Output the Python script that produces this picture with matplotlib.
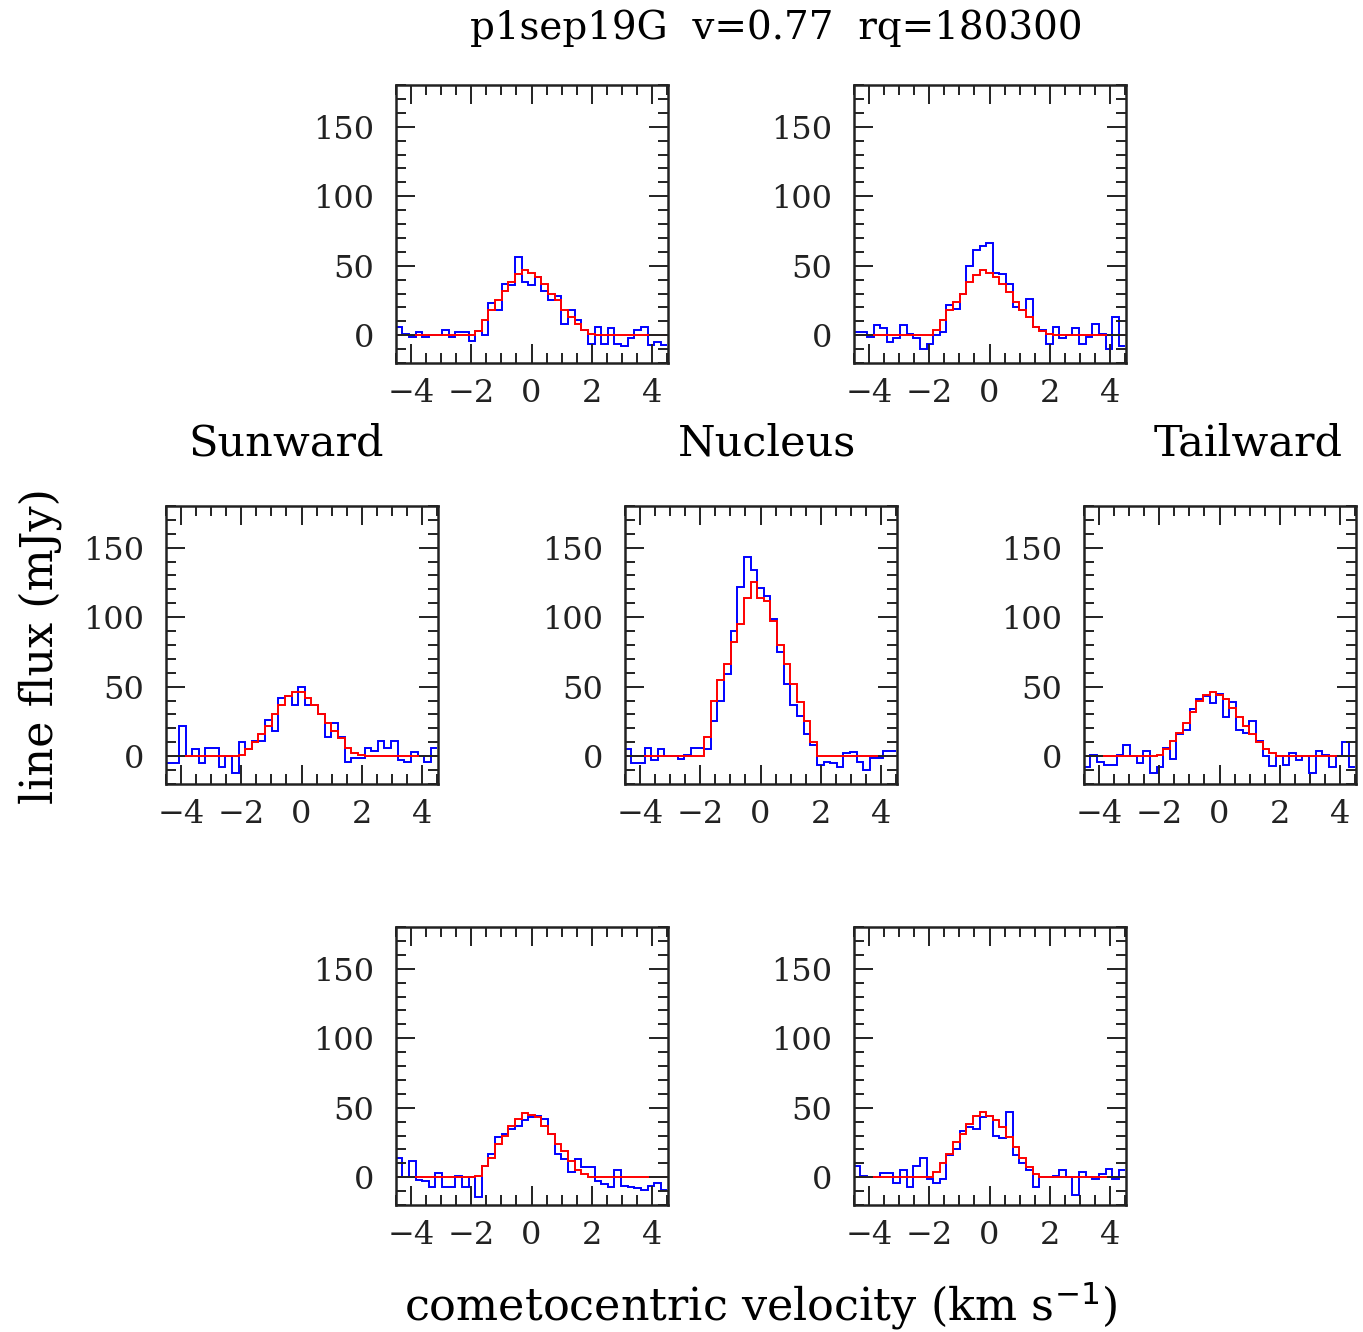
import numpy as np
import matplotlib
matplotlib.use('Agg')
import matplotlib.pyplot as plt
from matplotlib.ticker import MultipleLocator

plt.rcParams['font.family'] = ['DejaVu Serif']
plt.rcParams['axes.unicode_minus'] = True

# spectral channels (km/s)
CHAN_WIDTH = 0.22
N_CHAN = 41

# observed spectra (mJy), one list per beam position
obs_top_left = [6, 1, -1, 2, -1, 0, 0, 4, -1, 2, 2, -4, 3, 0, 23, 18, 37, 36, 56, 38, 36,
                42, 32, 25, 28, 8, 18, 11, 4, -6, 6, -6, 5, -6, -8, -2, 4, 6, -7, -5, -7]
obs_top_right = [2, 2, -1, 7, 5, -5, -2, 7, 1, -2, -10, -6, 0, 2, 22, 19, 30, 50, 61, 64, 66,
                 45, 44, 37, 20, 18, 26, 6, 4, -6, 6, -2, 0, 5, -6, -1, 8, 1, -10, 13, -8]
obs_sunward = [-5, -5, 22, 0, 5, -5, 6, 6, -8, 0, -12, 10, 5, 11, 11, 26, 18, 42, 43, 37, 50,
               37, 37, 30, 14, 24, 14, -4, -1, -1, 6, 4, 11, 6, 11, -3, -4, 3, 0, -4, 6]
obs_nucleus = [5, -5, -5, 6, -3, 5, 0, 0, -2, 1, 6, 6, 5, 25, 40, 59, 90, 122, 143, 134, 121,
               115, 99, 75, 52, 37, 29, 16, 8, -6, -4, -5, -8, 2, 3, -4, -10, -1, -1, 4, 4]
obs_tailward = [-8, 1, -4, -6, -6, 1, 8, 0, -5, 4, -12, -8, 6, -2, 16, 19, 34, 41, 43, 38, 45,
                28, 39, 19, 17, 25, 11, 0, -7, 0, -6, 2, -3, 0, -12, 4, 1, -8, 0, 10, -8]
obs_bot_left = [14, 0, 12, -2, -3, -7, 3, -7, -7, 1, -7, 0, -14, 8, 17, 29, 31, 35, 37, 41, 43,
                44, 42, 31, 17, 13, 4, 13, 7, 7, -3, -5, -7, 5, -6, -7, -8, -9, -6, -4, -9]
obs_bot_right = [8, 1, 0, 0, 3, 3, -4, 5, -7, 8, 14, -1, -4, -1, 16, 20, 33, 36, 35, 43, 44,
                 30, 28, 47, 16, 10, 5, -7, 0, 0, 1, 5, 0, -13, 4, 0, -1, 2, 6, -1, 5]

# model spectra (mJy)
mod_top_left = [0] * 12 + [3, 11, 18, 25, 32, 38, 44, 47, 45, 42, 37, 30, 25, 18, 13, 8, 4, 1] + [0] * 11
mod_top_right = [0] * 12 + [4, 11, 18, 24, 30, 38, 43, 47, 45, 42, 37, 31, 24, 18, 13, 6, 3, 1] + [0] * 11
mod_sunward = [0] * 11 + [1, 5, 10, 16, 22, 30, 37, 43, 46, 46, 42, 37, 30, 24, 18, 13, 6, 2, 1] + [0] * 11
mod_nucleus = [0] * 12 + [14, 40, 55, 66, 82, 95, 114, 125, 114, 112, 97, 80, 66, 52, 39, 25, 10] + [0] * 12
mod_tailward = [0] * 11 + [1, 5, 11, 17, 24, 32, 40, 44, 46, 44, 41, 35, 28, 22, 16, 10, 5, 2] + [0] * 12
mod_bot_left = [0] * 12 + [1, 8, 14, 24, 30, 37, 42, 46, 45, 43, 37, 31, 24, 19, 12, 5, 2] + [0] * 12
mod_bot_right = [0] * 12 + [4, 10, 17, 25, 31, 38, 44, 47, 44, 41, 36, 29, 22, 14, 7, 2] + [0] * 13

FIG_W, FIG_H = 1363, 1332

# panel boxes in pixels: left, top, right, bottom
panels = [
    (obs_top_left, mod_top_left, (396, 85, 668, 363)),
    (obs_top_right, mod_top_right, (854, 85, 1126, 363)),
    (obs_sunward, mod_sunward, (166, 506, 438, 784)),
    (obs_nucleus, mod_nucleus, (625, 506, 897, 784)),
    (obs_tailward, mod_tailward, (1084, 506, 1356, 784)),
    (obs_bot_left, mod_bot_left, (396, 927, 668, 1205)),
    (obs_bot_right, mod_bot_right, (854, 927, 1126, 1205)),
]


def channel_edges():
    centres = (np.arange(N_CHAN) - N_CHAN // 2) * CHAN_WIDTH
    return np.append(centres - CHAN_WIDTH / 2, centres[-1] + CHAN_WIDTH / 2)


def px_axes(fig, box):
    l, t, r, b = box
    return fig.add_axes([l / FIG_W, 1 - b / FIG_H, (r - l) / FIG_W, (b - t) / FIG_H])


def spectrum_panel(ax, obs, mod, edges):
    ax.stairs(obs, edges, baseline=None, color='#0000ff', lw=1.4)
    ax.stairs(mod, edges, baseline=None, color='#ff0000', lw=1.4)
    ax.set_xlim(-4.5, 4.53)
    ax.set_ylim(-20, 180)
    ax.xaxis.set_major_locator(MultipleLocator(2))
    ax.xaxis.set_minor_locator(MultipleLocator(0.5))
    ax.yaxis.set_major_locator(MultipleLocator(50))
    ax.yaxis.set_minor_locator(MultipleLocator(10))
    ax.tick_params(which='both', direction='in', top=True, right=True, width=1.4, colors='#222222')
    ax.tick_params(which='major', length=14, labelsize=23)
    ax.tick_params(which='minor', length=7)
    ax.tick_params(axis='y', pad=16)
    ax.tick_params(axis='x', pad=11)
    for s in ax.spines.values():
        s.set_linewidth(1.8)
        s.set_color('#222222')


def main():
    fig = plt.figure(figsize=(FIG_W / 100, FIG_H / 100), dpi=100)
    edges = channel_edges()

    for obs, mod, box in panels:
        ax = px_axes(fig, box)
        spectrum_panel(ax, obs, mod, edges)

    fig.text(776 / FIG_W, 1 - 28 / FIG_H, 'p1sep19G  v=0.77  rq=180300', ha='center', va='center', fontsize=28)
    fig.text(286 / FIG_W, 1 - 443 / FIG_H, 'Sunward', ha='center', va='center', fontsize=31)
    fig.text(767 / FIG_W, 1 - 443 / FIG_H, 'Nucleus', ha='center', va='center', fontsize=31)
    fig.text(1248 / FIG_W, 1 - 443 / FIG_H, 'Tailward', ha='center', va='center', fontsize=31)
    fig.text(40 / FIG_W, 1 - 646 / FIG_H, 'line flux (mJy)', ha='center', va='center', rotation=90, fontsize=32)
    fig.text(760 / FIG_W, 1 - 1306 / FIG_H, r'cometocentric velocity (km s$^{-1}$)', ha='center', va='center', fontsize=32)

    fig.savefig('out.png', dpi=100, facecolor='white')


if '__main__' == __name__:
    main()
